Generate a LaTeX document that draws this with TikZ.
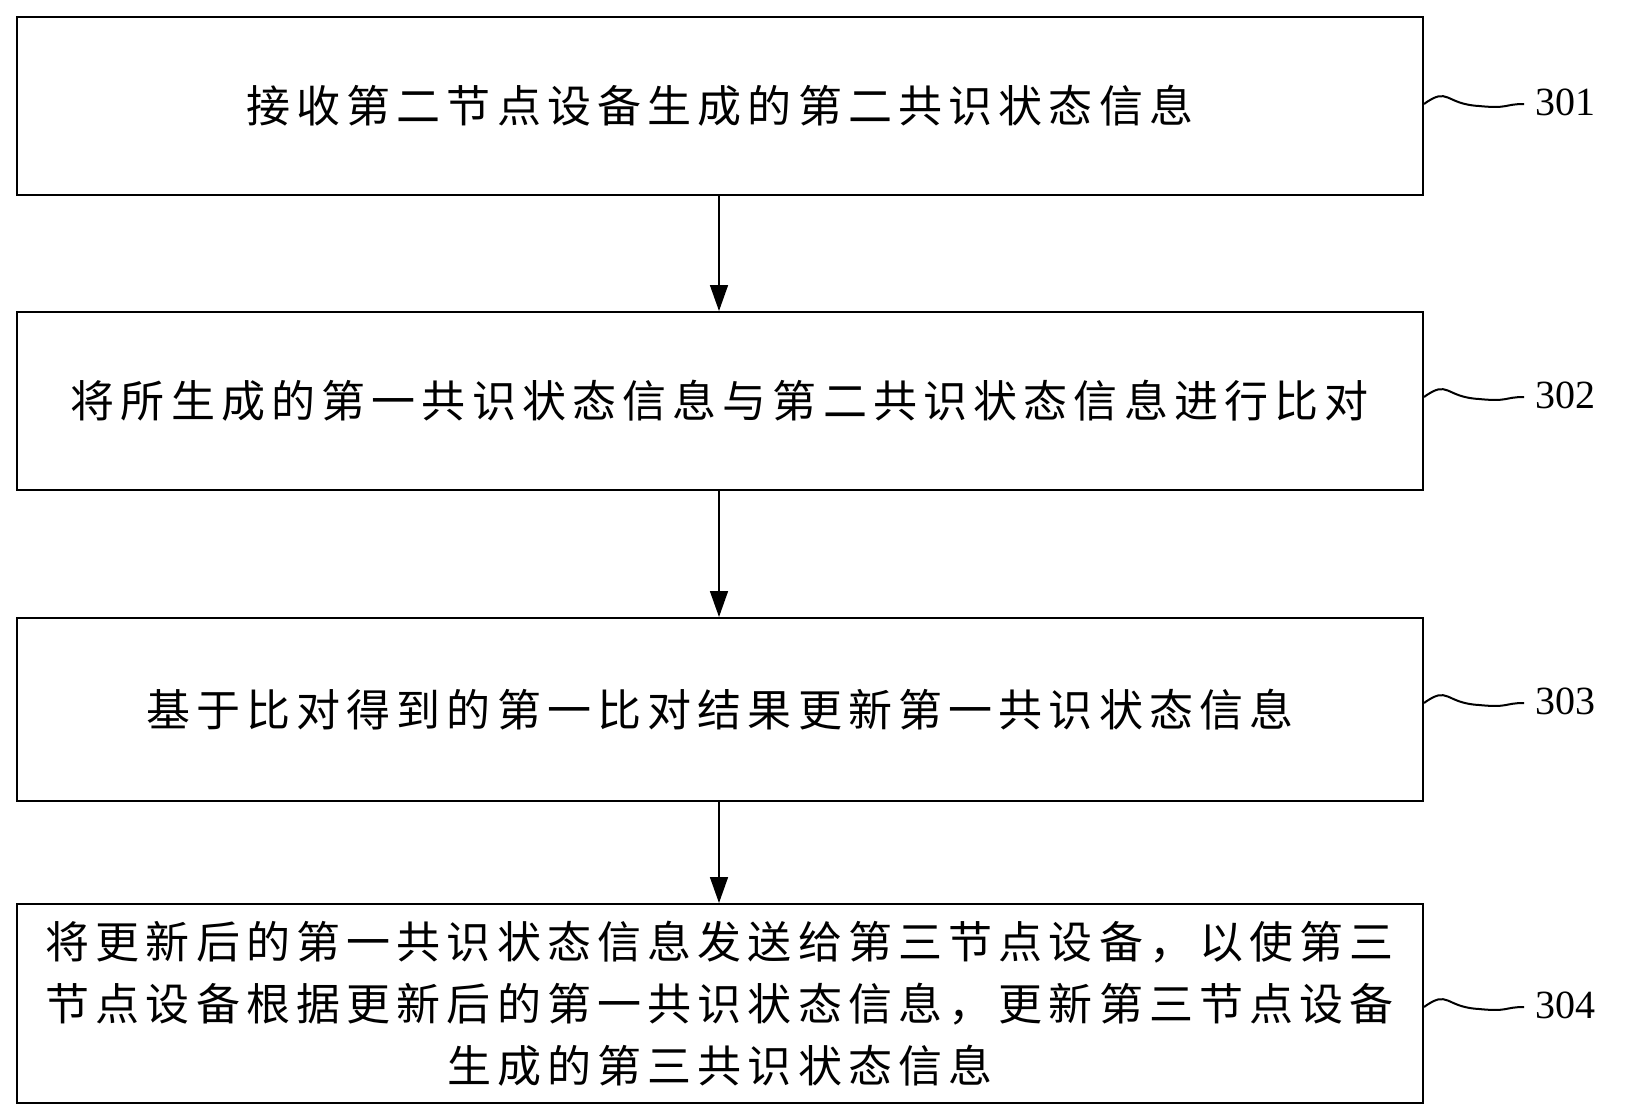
\documentclass[tikz,border=0pt]{standalone}
\usepackage{fontspec}
\setmainfont{Liberation Serif}
\newfontfamily\cjk[LetterSpace=14]{Noto Sans CJK SC}
\usetikzlibrary{arrows.meta}
\begin{document}
\begin{tikzpicture}[x=1pt,y=-1pt,
 box/.style={draw,line width=1.6pt,minimum width=1406pt,anchor=north west,inner sep=0pt,align=center,font=\cjk\fontsize{44}{62}\selectfont},
 arr/.style={line width=1.6pt,-{Triangle[length=26pt,width=18pt]}},
 num/.style={font=\fontsize{40}{40}\selectfont,anchor=west},
 wave/.style={line width=2pt}]
\useasboundingbox (0,0) rectangle (1627,1116);
\node[box,minimum height=178pt] (b1) at (16,16) {接收第二节点设备生成的第二共识状态信息};
\node[box,minimum height=178pt] (b2) at (16,311) {将所生成的第一共识状态信息与第二共识状态信息进行比对};
\node[box,minimum height=183pt] (b3) at (16,617) {基于比对得到的第一比对结果更新第一共识状态信息};
\node[box,minimum height=199pt] (b4) at (16,903) {将更新后的第一共识状态信息发送给第三节点设备，以使第三\\节点设备根据更新后的第一共识状态信息，更新第三节点设备\\生成的第三共识状态信息};
\draw[arr] (b1.south -| 719,0) -- (b2.north -| 719,0);
\draw[arr] (b2.south -| 719,0) -- (b3.north -| 719,0);
\draw[arr] (b3.south -| 719,0) -- (b4.north -| 719,0);
\foreach \b/\n/\y in {b1/301/104,b2/302/397,b3/303/703,b4/304/1007}{
 \coordinate (w\n) at (1424,\y);
 \draw[wave] (w\n) .. controls +(25,-18) and +(-35,-2) .. +(55,2) .. controls +(30,3) and +(-20,0) .. +(100,0);
 \node[num] (n\n) at (1532,\y-2) {\n};
}
\end{tikzpicture}
\end{document}
